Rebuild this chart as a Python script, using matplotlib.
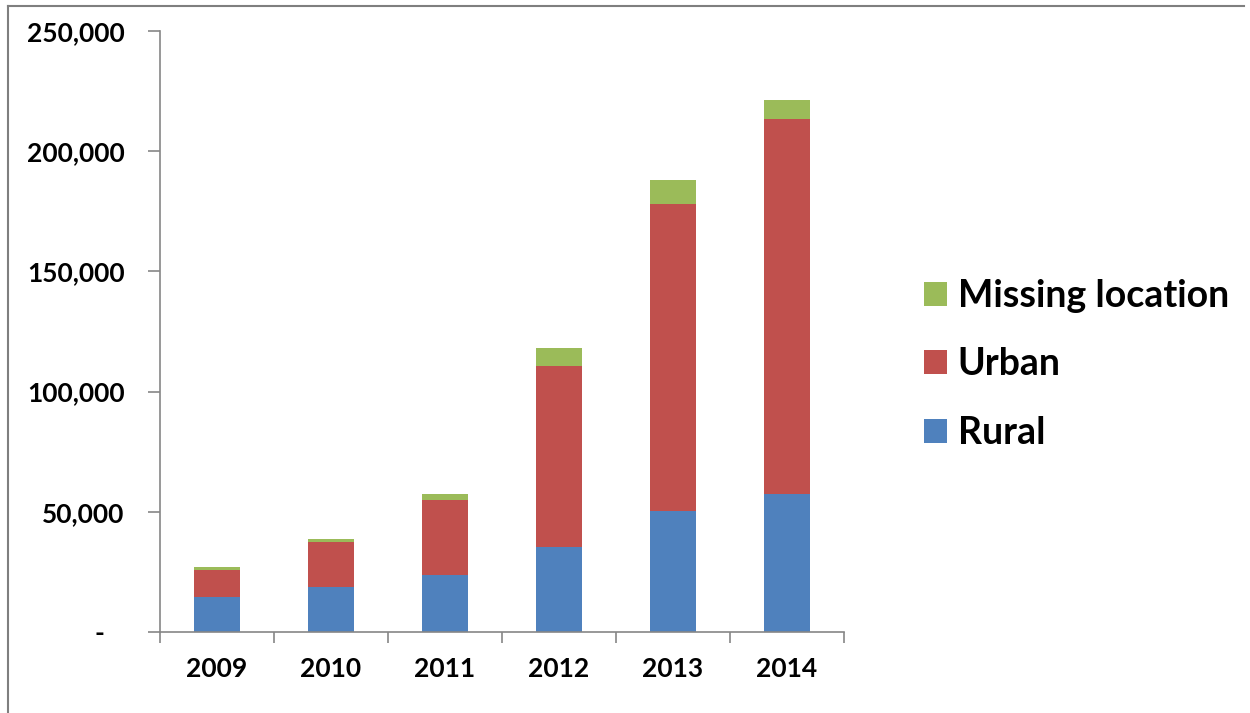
import numpy as np
import matplotlib.pyplot as plt
from matplotlib.lines import Line2D
from matplotlib.ticker import FuncFormatter

years = ['2009', '2010', '2011', '2012', '2013', '2014']
rural = [14600, 18900, 23700, 35500, 50500, 57400]
urban = [11200, 18700, 31200, 75100, 127500, 155900]
missing = [1400, 1100, 2400, 7400, 10000, 8000]

plt.rcParams['font.family'] = ['Lato', 'DejaVu Sans']
plt.rcParams['font.weight'] = 'bold'

fig = plt.figure(figsize=(12.5, 7.13), dpi=100)
ax = fig.add_axes([0.128, 0.1136, 0.547, 0.843])

x = np.arange(len(years))
w = 0.4
rural_c = '#4F81BD'
urban_c = '#C0504D'
miss_c = '#9BBB59'

b1 = ax.bar(x, rural, w, color=rural_c, label='Rural')
b2 = ax.bar(x, urban, w, bottom=rural, color=urban_c, label='Urban')
bottom2 = np.array(rural) + np.array(urban)
b3 = ax.bar(x, missing, w, bottom=bottom2, color=miss_c, label='Missing location')

ax.set_xlim(-0.5, len(years) - 0.5)
ax.set_ylim(0, 250000)
ax.set_yticks(np.arange(0, 250001, 50000))
ax.yaxis.set_major_formatter(FuncFormatter(lambda v, p: '-   ' if v == 0 else f'{int(v):,}'))

ax.set_xticks(x)
ax.set_xticklabels(years)
ax.set_xticks(np.arange(-0.5, len(years)), minor=True)
ax.tick_params(axis='x', which='major', length=0, pad=18, labelsize=19)
ax.tick_params(axis='x', which='minor', length=8, color='#868686', width=1.2, direction='out')
ax.tick_params(axis='y', length=8.6, color='#868686', width=1.2, pad=17, labelsize=19)

for s in ['top', 'right']:
    ax.spines[s].set_visible(False)
for s in ['left', 'bottom']:
    ax.spines[s].set_color('#868686')
    ax.spines[s].set_linewidth(1.2)

fig.legend(handles=[b3, b2, b1], labels=['Missing location', 'Urban', 'Rural'],
           loc='center left', bbox_to_anchor=(0.712, 0.489), frameon=False,
           fontsize=27, handlelength=0.63, handleheight=0.6, handletextpad=0.28,
           labelspacing=0.92)

# outer frame (top and left edges)
fig.add_artist(Line2D([8 / 1250, 1244 / 1250], [1 - 6 / 713, 1 - 6 / 713],
                      color='#7f7f7f', lw=1.5, transform=fig.transFigure))
fig.add_artist(Line2D([8 / 1250, 8 / 1250], [0, 1 - 6 / 713],
                      color='#7f7f7f', lw=1.5, transform=fig.transFigure))

fig.savefig('out.png', dpi=100)
